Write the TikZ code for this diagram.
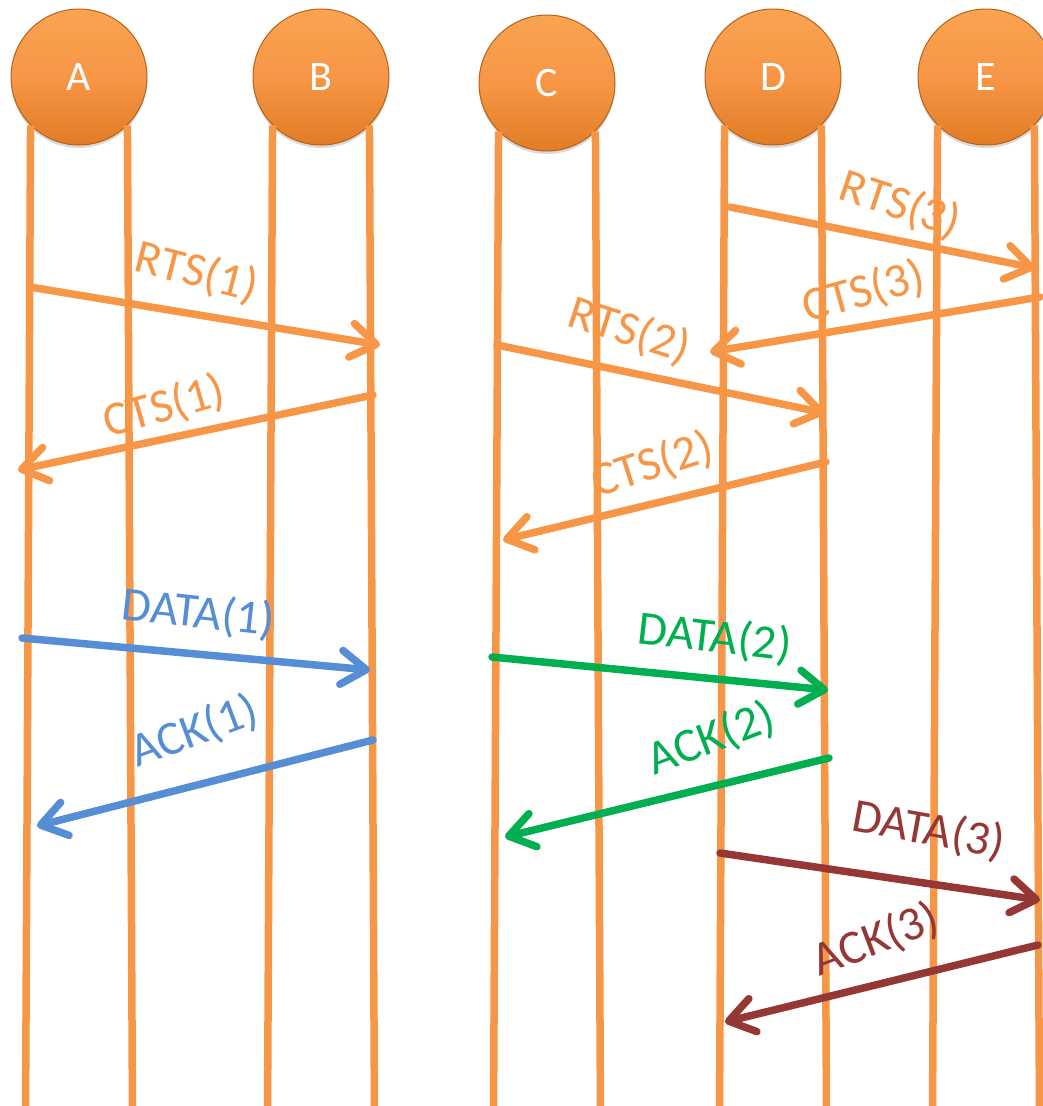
\documentclass[tikz,border=0pt]{standalone}
\usepackage{fontspec}
\setmainfont{Carlito}
\usepackage{tikz}
\usetikzlibrary{arrows.meta}
\usetikzlibrary{shadows}
\definecolor{accent}{HTML}{F79646}
\definecolor{accentrim}{HTML}{B5621C}
\definecolor{accenttop}{HTML}{F9A450}
\definecolor{accentlow}{HTML}{E27C24}
\definecolor{datablue}{HTML}{558ED5}
\definecolor{datagreen}{HTML}{00B050}
\definecolor{datared}{HTML}{953735}
% a station with its two lifelines hanging from the lower edge
\newcommand{\station}[3]{\node[station] (#1) at (#2) {#3};}
\newcommand{\lifeline}[2]{\draw[life] (#1.south west) -- ++(-5,-#2); \draw[life] (#1.south east) -- ++(5,-#2);}

\begin{document}
\begin{tikzpicture}[x=1pt, y=1pt,
    station/.style={circle, minimum size=136pt, inner sep=0pt, draw=accentrim, line width=1pt,
        top color=accenttop, bottom color=accentlow, middle color=accent,
        drop shadow={opacity=0.3, shadow xshift=0pt, shadow yshift=-3pt},
        text=white, font=\fontsize{42}{48}\selectfont},
    life/.style={accent, line width=7.5pt},
    msg/.style={color=#1, line width=7.5pt, line cap=round,
        -{Straight Barb[length=25pt, width=34pt, round]}},
    lbl/.style={sloped, above=14pt, inner sep=2pt, font=\fontsize{48}{54}\selectfont}]
        \useasboundingbox (0,0) rectangle (1043,-1106);
        % stations
        \station{A}{79,-77}{A}
        \station{B}{321,-77}{B}
        \station{C}{547,-83}{C}
        \station{D}{773,-77}{D}
        \station{E}{986,-77}{E}
        % lifelines
        \lifeline{A}{981}
        \lifeline{B}{981}
        \lifeline{C}{976}
        \lifeline{D}{981}
        \lifeline{E}{981}
        % end points A - B
        \coordinate (rts1a) at (30,-287);
        \coordinate (rts1b) at (380,-345);
        \coordinate (cts1a) at (373,-395);
        \coordinate (cts1b) at (18,-470);
        \coordinate (data1a) at (22,-638);
        \coordinate (data1b) at (370,-670);
        \coordinate (ack1a) at (373,-740);
        \coordinate (ack1b) at (37,-826);
        % end points C - D
        \coordinate (rts2a) at (497,-345);
        \coordinate (rts2b) at (825,-413);
        \coordinate (cts2a) at (826,-462);
        \coordinate (cts2b) at (503,-540);
        \coordinate (data2a) at (492,-657);
        \coordinate (data2b) at (828,-690);
        \coordinate (ack2a) at (829,-758);
        \coordinate (ack2b) at (505,-837);
        % end points D - E
        \coordinate (rts3a) at (730,-207);
        \coordinate (rts3b) at (1035,-268);
        \coordinate (cts3a) at (1040,-297);
        \coordinate (cts3b) at (710,-352);
        \coordinate (data3a) at (720,-853);
        \coordinate (data3b) at (1040,-900);
        \coordinate (ack3a) at (1038,-945);
        \coordinate (ack3b) at (725,-1022);
        % handshake A - B
        \draw[msg=accent] (rts1a) -- node[lbl, pos=.45, above=1pt, rotate=-5] {RTS(1)} (rts1b);
        \draw[msg=accent] (cts1a) -- node[lbl, pos=.565, above=-9pt, rotate=4] {CTS(1)} (cts1b);
        \draw[msg=datablue] (data1a) -- node[lbl, pos=.495, rotate=-1] {DATA(1)} (data1b);
        \draw[msg=datablue] (ack1a) -- node[lbl, pos=.485, above=12pt, rotate=6] {ACK(1)} (ack1b);
        % handshake C - D
        \draw[msg=accent] (rts2a) -- node[lbl, pos=.37, rotate=-6] {RTS(2)} (rts2b);
        \draw[msg=accent] (cts2a) -- node[lbl, pos=.505, above=-3pt, rotate=4] {CTS(2)} (cts2b);
        \draw[msg=datagreen] (data2a) -- node[lbl, pos=.65, rotate=-1] {DATA(2)} (data2b);
        \draw[msg=datagreen] (ack2a) -- node[lbl, pos=.32, above=6pt, rotate=7] {ACK(2)} (ack2b);
        % handshake D - E
        \draw[msg=accent] (rts3a) -- node[lbl, pos=.525, above=-5pt, rotate=-7] {RTS(3)} (rts3b);
        \draw[msg=accent] (cts3a) -- node[lbl, pos=.51, above=-7pt, rotate=6] {CTS(3)} (cts3b);
        \draw[msg=datared] (data3a) -- node[lbl, pos=.625, above=12pt, rotate=-2] {DATA(3)} (data3b);
        \draw[msg=datared] (ack3a) -- node[lbl, pos=.475, above=3pt, rotate=7] {ACK(3)} (ack3b);
\end{tikzpicture}
\end{document}
